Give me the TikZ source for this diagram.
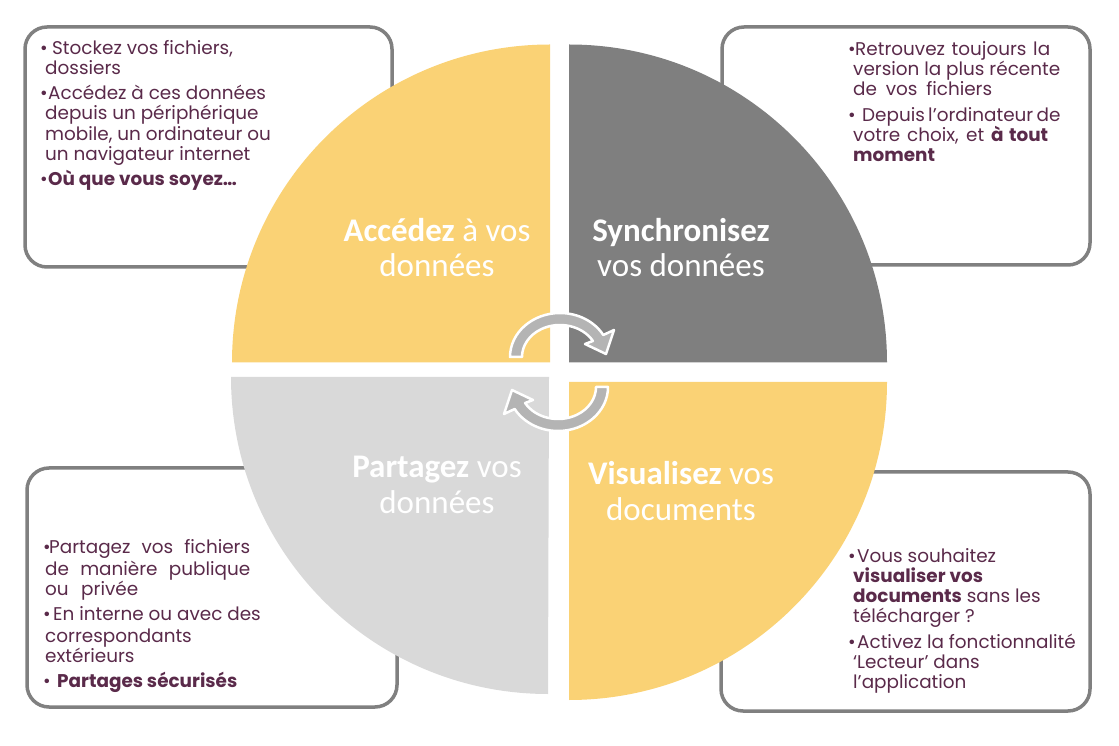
\documentclass[tikz,border=0pt]{standalone}
\usepackage{fontspec}
\setmainfont{Carlito}
\newfontfamily\boxfont{Poppins}
\definecolor{yel}{RGB}{250,210,117}
\definecolor{dgray}{RGB}{127,127,127}
\definecolor{lgray}{RGB}{217,217,217}
\definecolor{agray}{RGB}{180,180,180}
\definecolor{plum}{RGB}{90,42,74}
\definecolor{bord}{RGB}{128,128,128}
\tikzset{
  infobox/.style={draw=bord, line width=3.5pt, rounded corners=22pt, fill=white},
  cycarrow/.style={fill=agray, draw=white, line width=2.5pt, line join=round},
  txt/.style={anchor=base west, inner sep=0pt, text=plum, font=\boxfont\fontsize{18.4}{20}\selectfont},
  lab/.style={anchor=base, inner sep=0pt, text=white, font=\fontsize{33}{36}\selectfont},
}
\newcommand{\bul}[1]{\makebox[#1pt][l]{•}}
\begin{document}
\begin{tikzpicture}[x=1pt,y=1pt]
\useasboundingbox (0,0) rectangle (1119,745);
% boxes
\draw[infobox] (25,478) rectangle (392,718);
\draw[infobox] (722,480) rectangle (1090,718);
\draw[infobox] (27,38) rectangle (397,277);
\draw[infobox] (721,34) rectangle (1090,273);
% quadrants
\fill[yel] (550,382.5) -- (232,382.5) arc[start angle=180,end angle=90,radius=318pt] -- cycle;
\fill[dgray] (569,382.5) -- (569,700.5) arc[start angle=90,end angle=0,radius=318pt] -- cycle;
\fill[lgray] (549,368) -- (231,368) arc[start angle=180,end angle=270,radius=317pt] -- cycle;
\fill[yel] (569,363) -- (887,363) arc[start angle=0,end angle=-90,radius=318pt] -- cycle;
% cycle arrows
\begin{scope}[shift={(560,388)}]
\path[cycarrow] (-50,0) arc[start angle=180,end angle=30,x radius=50pt,y radius=44pt]
  -- (54,27) -- (46,3) -- (25,13) -- (32.9,16) arc[start angle=30,end angle=180,x radius=38pt,y radius=32pt] -- cycle;
\end{scope}
\begin{scope}[shift={(558,358)},rotate=180]
\path[cycarrow] (-50,0) arc[start angle=180,end angle=30,x radius=50pt,y radius=44pt]
  -- (54,27) -- (46,3) -- (25,13) -- (32.9,16) arc[start angle=30,end angle=180,x radius=38pt,y radius=32pt] -- cycle;
\end{scope}
% main labels
\node[lab] (m1a) at (437,503) {\textbf{Accédez} à vos};
\node[lab] (m1b) at (437,468) {données};
\node[lab] (m2a) at (681,503) {\textbf{Synchronisez}};
\node[lab] (m2b) at (681,468) {vos données};
\node[lab] (m3a) at (437,267) {\textbf{Partagez} vos};
\node[lab] (m3b) at (437,232) {données};
\node[lab] (m4a) at (681,260) {\textbf{Visualisez} vos};
\node[lab] (m4b) at (681,225) {documents};
% top-left box text
\node[txt] (a1) at (40,690) {\bul{12}Stockez vos fichiers,};
\node[txt] (a2) at (45,670.5) {dossiers};
\node[txt] (a3) at (40,645) {\bul{8}Accédez à ces données};
\node[txt] (a4) at (45,625) {depuis un périphérique};
\node[txt] (a5) at (45,604) {mobile, un ordinateur ou};
\node[txt] (a6) at (45,584) {un navigateur internet};
\node[txt] (a7) at (40,559) {\bul{8}\textbf{Où que vous soyez…}};
% top-right box text
\node[txt] (b1) at (848,689) {\bul{7}\makebox[195pt][s]{Retrouvez toujours la}};
\node[txt] (b2) at (853,669) {\makebox[207pt][s]{version la plus récente}};
\node[txt] (b3) at (853,649) {\makebox[139pt][s]{de vos fichiers}};
\node[txt] (b4) at (848,623) {\bul{14}\makebox[196pt][s]{Depuis l’ordinateur de}};
\node[txt] (b5) at (853,603) {\makebox[195pt][s]{votre choix, et \textbf{à tout}}};
\node[txt] (b6) at (853,583) {\textbf{moment}};
% bottom-left box text
\node[txt] (c1) at (43,192) {\bul{6}\makebox[201pt][s]{Partagez vos fichiers}};
\node[txt] (c2) at (45,170) {\makebox[205pt][s]{de manière publique}};
\node[txt] (c3) at (45,150) {\makebox[93pt][s]{ou privée}};
\node[txt] (c4) at (43,125) {\bul{10}En interne ou avec des};
\node[txt] (c5) at (45,103) {correspondants};
\node[txt] (c6) at (45,83) {extérieurs};
\node[txt] (c7) at (43,58) {\bul{14}\textbf{Partages sécurisés}};
% bottom-right box text
\node[txt] (d1) at (848,183) {\bul{9}Vous souhaitez};
\node[txt] (d2) at (853,163) {\textbf{visualiser vos}};
\node[txt] (d3) at (853,143) {\textbf{documents} sans les};
\node[txt] (d4) at (853,123) {télécharger ?};
\node[txt] (d5) at (848,97) {\bul{9}Activez la fonctionnalité};
\node[txt] (d6) at (853,77) {‘Lecteur’ dans};
\node[txt] (d7) at (853,57) {l’application};
\end{tikzpicture}
\end{document}
